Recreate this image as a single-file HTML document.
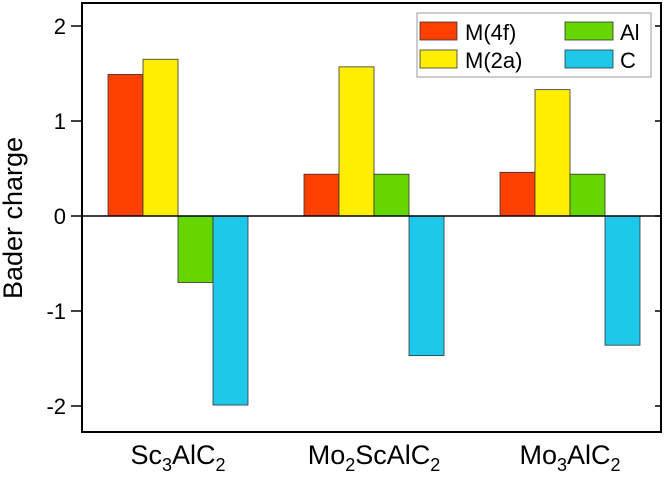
<!DOCTYPE html>
<html><head><meta charset="utf-8"><style>
body{margin:0;background:#fff;font-family:"Liberation Sans",Arial,sans-serif}
svg text{font-family:"Liberation Sans",Arial,sans-serif}
</style></head><body>
<svg id="chart" width="666" height="474" xmlns="http://www.w3.org/2000/svg"></svg>
<script>
const categories = ["Sc3AlC2","Mo2ScAlC2","Mo3AlC2"];
const seriesNames = ["M(4f)","M(2a)","Al","C"];
const seriesColors = ["#ff4000","#ffee00","#66d600","#1ec8ea"];
const m4f = [1.49, 0.44, 0.46];
const m2a = [1.65, 1.57, 1.33];
const al = [-0.70, 0.44, 0.44];
const c = [-1.99, -1.47, -1.36];
const yTicks = [-2,-1,0,1,2];
const series = [m4f, m2a, al, c];

const svg = document.getElementById('chart');
const NS = "http://www.w3.org/2000/svg";
const L=82,R=661,T=3,B=432;
const y = v => 216 - v*95;
const groupCenter = i => 178 + i*196;
const barW = 35;
function mk(tag, attrs){const e=document.createElementNS(NS,tag);for(const k in attrs)e.setAttribute(k,attrs[k]);svg.appendChild(e);return e;}

series.forEach((s,si)=>{
  s.forEach((v,ci)=>{
    const x = groupCenter(ci) - 2*barW + si*barW;
    const r = mk('rect',{x:x,y:Math.min(y(v),y(0)),width:barW,height:Math.abs(y(v)-y(0)),fill:seriesColors[si],stroke:'#333','stroke-width':0.8});
    
    
  });
});
const zl = mk('line',{x1:L,x2:R,y1:y(0),y2:y(0),stroke:'#000','stroke-width':1.5});


const fr = mk('rect',{x:L,y:T,width:R-L,height:B-T,fill:'none',stroke:'#000','stroke-width':2});


yTicks.forEach(t=>{
  mk('line',{x1:L-11,x2:L,y1:y(t),y2:y(t),stroke:'#000','stroke-width':1.5});
  mk('line',{x1:R-6,x2:R,y1:y(t),y2:y(t),stroke:'#000','stroke-width':1.5});
  const tx = mk('text',{x:L-16,y:y(t)+8,'text-anchor':'end','font-size':22});
  tx.textContent = t;
  
  
});
const labelParts = [[["Sc",0],["3",1],["AlC",0],["2",1]],[["Mo",0],["2",1],["ScAlC",0],["2",1]],[["Mo",0],["3",1],["AlC",0],["2",1]]];
labelParts.forEach((parts,i)=>{
  const tx = mk('text',{x:groupCenter(i),y:464,'text-anchor':'middle','font-size':27});
  
  
  let sub=false;
  parts.forEach(p=>{
    const ts=document.createElementNS(NS,'tspan');
    ts.textContent=p[0];
    if(p[1]){ts.setAttribute('font-size','18');ts.setAttribute('dy','7');sub=true;}
    else if(sub){ts.setAttribute('dy','-7');sub=false;}
    tx.appendChild(ts);
  });
});
const yt = mk('text',{x:0,y:0,'text-anchor':'middle','font-size':27,transform:'translate(22,218) rotate(-90)'});
yt.textContent='Bader charge';


const lg = mk('rect',{x:417,y:13,width:234,height:64,fill:'#fff',stroke:'#999','stroke-width':1});


const lpos=[[420,22],[420,50],[565,22],[565,50]];
seriesNames.forEach((n,i)=>{
  const [lx,ly]=lpos[i];
  const sw = mk('rect',{x:lx,y:ly,width:i<2?37:48,height:18,fill:seriesColors[i],stroke:'#333','stroke-width':0.8});
  
  
  const tx = mk('text',{x:lx+(i<2?45:55),y:ly+18,'font-size':22});
  tx.textContent=n;
  
  
});
</script>
</body></html>
